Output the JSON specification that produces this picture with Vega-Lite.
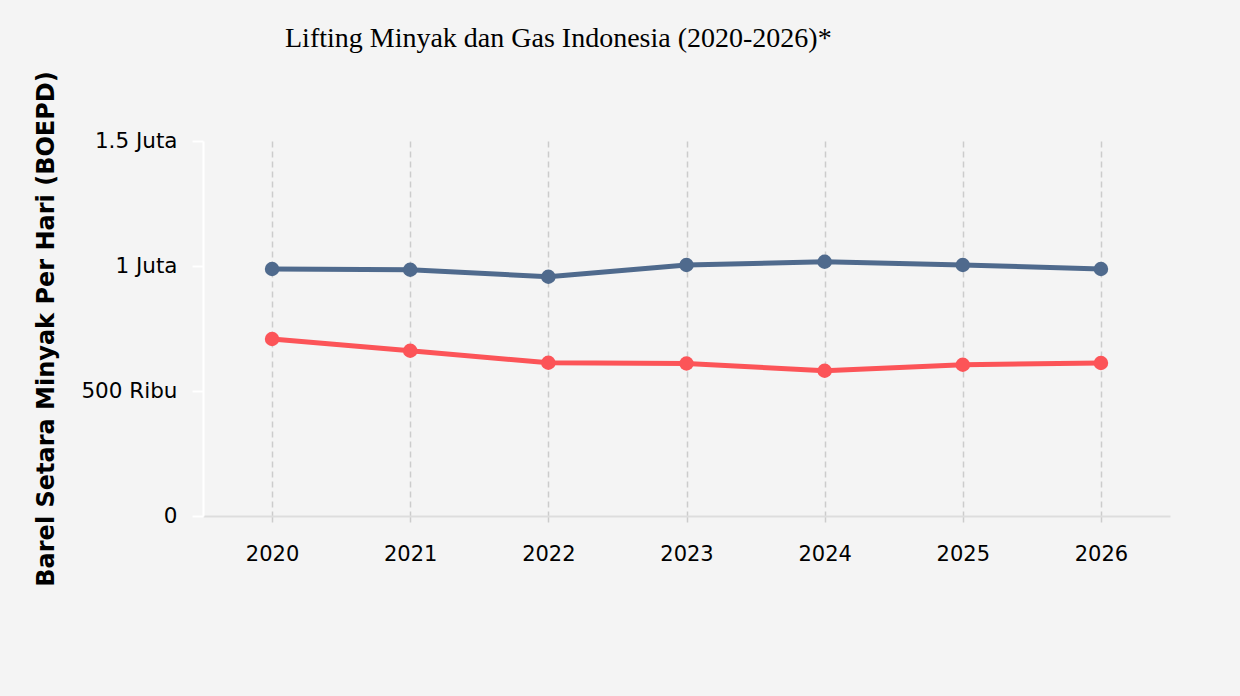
{
  "$schema": "https://vega.github.io/schema/vega-lite/v6.json",
  "width": 967,
  "height": 375,
  "autosize": {"type": "none"},
  "padding": {"left": 203, "top": 141, "right": 70, "bottom": 180},
  "background": "#f4f4f4",
  "title": {
    "text": "Lifting Minyak dan Gas Indonesia (2020-2026)*",
    "font": "Liberation Serif",
    "fontSize": 28,
    "fontWeight": "normal",
    "color": "#000000",
    "anchor": "start",
    "frame": "group",
    "dx": 82,
    "offset": 18
  },
  "config": {
    "view": {"stroke": null},
    "axis": {"labelFont": "DejaVu Sans", "titleFont": "DejaVu Sans"}
  },
  "data": {
    "values": [
      {"tahun": "2020", "jenis": "Gas", "boepd": 988000},
      {"tahun": "2021", "jenis": "Gas", "boepd": 985000},
      {"tahun": "2022", "jenis": "Gas", "boepd": 957000},
      {"tahun": "2023", "jenis": "Gas", "boepd": 1004000},
      {"tahun": "2024", "jenis": "Gas", "boepd": 1017000},
      {"tahun": "2025", "jenis": "Gas", "boepd": 1004000},
      {"tahun": "2026", "jenis": "Gas", "boepd": 988000},
      {"tahun": "2020", "jenis": "Minyak", "boepd": 708000},
      {"tahun": "2021", "jenis": "Minyak", "boepd": 661000},
      {"tahun": "2022", "jenis": "Minyak", "boepd": 613000},
      {"tahun": "2023", "jenis": "Minyak", "boepd": 610000},
      {"tahun": "2024", "jenis": "Minyak", "boepd": 581000},
      {"tahun": "2025", "jenis": "Minyak", "boepd": 605000},
      {"tahun": "2026", "jenis": "Minyak", "boepd": 612000}
    ]
  },
  "encoding": {
    "x": {
      "field": "tahun",
      "type": "ordinal",
      "scale": {"type": "point", "padding": 0.5},
      "title": null,
      "axis": {
        "labelAngle": 0,
        "labelFontSize": 21,
        "labelColor": "#000000",
        "labelPadding": 18,
        "domainColor": "#dddddd",
        "domainWidth": 2,
        "grid": true,
        "gridColor": "#cccccc",
        "gridDash": [6, 4],
        "gridWidth": 1.5,
        "tickColor": "#cccccc",
        "tickDash": [6, 4],
        "tickWidth": 1.5,
        "tickSize": 9
      }
    },
    "y": {
      "field": "boepd",
      "type": "quantitative",
      "scale": {"domain": [0, 1500000]},
      "title": "Barel Setara Minyak Per Hari (BOEPD)",
      "axis": {
        "values": [0, 500000, 1000000, 1500000],
        "labelExpr": "datum.value == 0 ? '0' : datum.value < 1000000 ? format(datum.value / 1000, 'd') + ' Ribu' : format(datum.value / 1000000, '.2~f') + ' Juta'",
        "labelFontSize": 21.5,
        "labelColor": "#000000",
        "labelPadding": 15,
        "titleFontSize": 24,
        "titleFontWeight": "bold",
        "titleColor": "#000000",
        "titlePadding": 22,
        "domainColor": "#ffffff",
        "domainWidth": 2,
        "tickColor": "#ffffff",
        "tickWidth": 2,
        "tickSize": 11,
        "grid": false,
        "zindex": 1
      }
    },
    "color": {
      "field": "jenis",
      "type": "nominal",
      "scale": {"domain": ["Gas", "Minyak"], "range": ["#4f6a8d", "#fc5458"]},
      "legend": null
    }
  },
  "layer": [
    {"mark": {"type": "line", "strokeWidth": 5}},
    {"mark": {"type": "circle", "size": 210, "opacity": 1}}
  ]
}
